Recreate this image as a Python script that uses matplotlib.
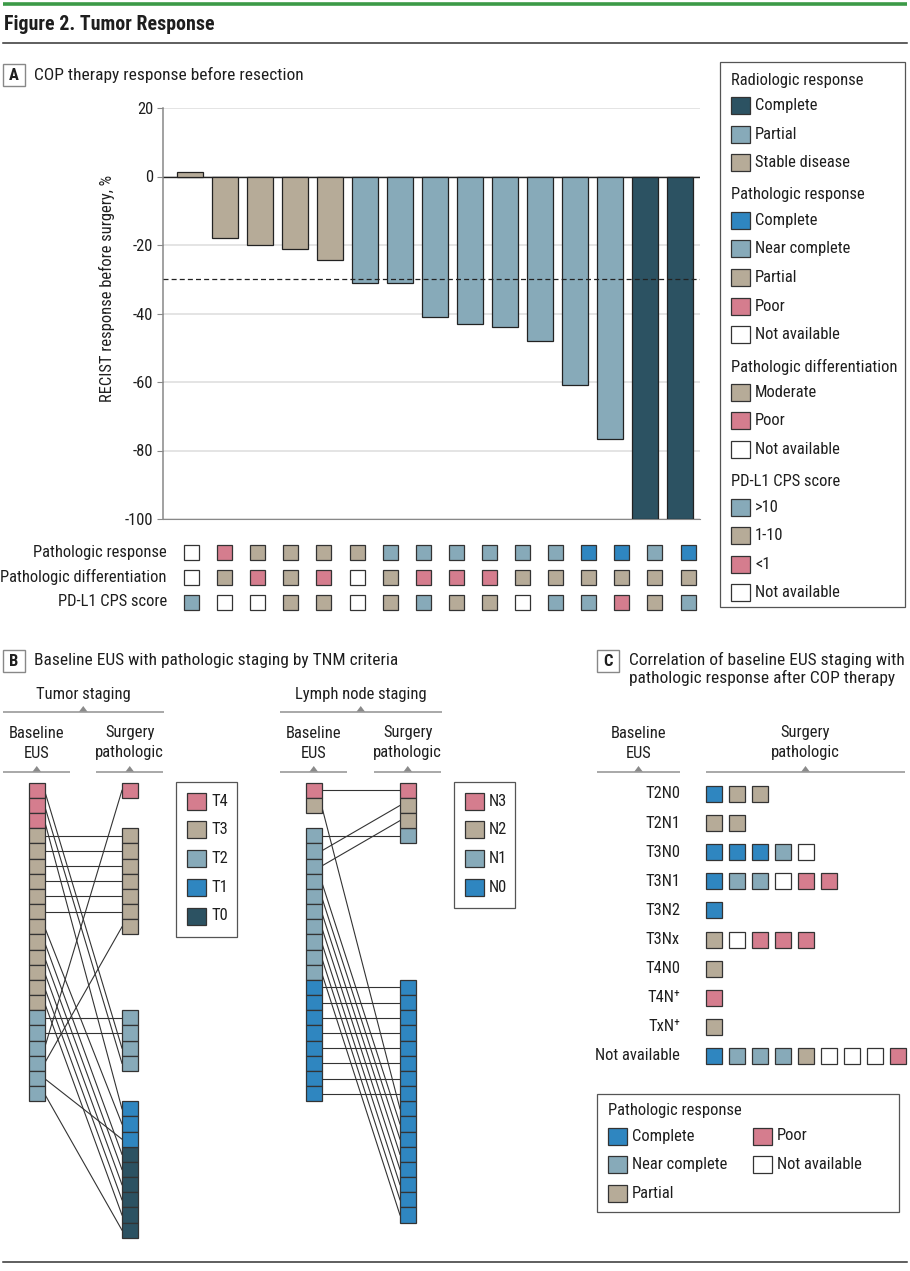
import matplotlib
matplotlib.use("Agg")
import matplotlib.pyplot as plt
from matplotlib import font_manager
from matplotlib.patches import Rectangle, Polygon

# the original uses a condensed sans; take the narrowest one that is installed
_names = {f.name for f in font_manager.fontManager.ttflist}
FONT, FS = "DejaVu Sans", 9.8
for name, size in [("Roboto Condensed", 11.9), ("Liberation Sans Narrow", 11.9),
                   ("Open Sans Condensed", 11.9), ("Lato", 11.2)]:
    if name in _names:
        FONT, FS = name, size
        break
plt.rcParams["font.family"] = [FONT, "DejaVu Sans"]
plt.rcParams["axes.unicode_minus"] = False

W, H = 910, 1271

# colours
DARK = "#2c5262"
BLUE = "#2f86c0"
STEEL = "#87aab9"
TAN = "#b6ab98"
PINK = "#d57d8e"
WHITE = "#ffffff"
EDGE = "#333333"
TXT = "#1e1e1e"
GRID = "#dddddd"

# ---- panel A data ----
recist = [1.2, -18, -20, -21.3, -24.5, -31, -31, -41, -43, -44, -48, -61, -76.5, -100, -100]
radiologic = ["Stable disease", "Stable disease", "Stable disease", "Stable disease", "Stable disease",
              "Partial", "Partial", "Partial", "Partial", "Partial", "Partial", "Partial", "Partial",
              "Complete", "Complete"]
path_response = ["NA", "Poor", "Partial", "Partial", "Partial", "Partial", "Near complete",
                 "Near complete", "Near complete", "Near complete", "Near complete", "Near complete",
                 "Complete", "Complete", "Near complete", "Complete"]
path_diff = ["NA", "Moderate", "Poor", "Moderate", "Poor", "NA", "Moderate", "Poor", "Poor", "Poor",
             "Moderate", "Moderate", "Moderate", "Moderate", "Moderate", "Moderate"]
pdl1 = [">10", "NA", "NA", "1-10", "1-10", "NA", "1-10", ">10", "1-10", "1-10", "NA", ">10", ">10",
        "<1", "1-10", ">10"]
row_labels = ["Pathologic response", "Pathologic differentiation", "PD-L1 CPS score"]

radio_col = {"Complete": DARK, "Partial": STEEL, "Stable disease": TAN}
resp_col = {"Complete": BLUE, "Near complete": STEEL, "Partial": TAN, "Poor": PINK, "NA": WHITE}
diff_col = {"Moderate": TAN, "Poor": PINK, "NA": WHITE}
pdl1_col = {">10": STEEL, "1-10": TAN, "<1": PINK, "NA": WHITE}

# ---- panel B data (one entry per patient, baseline order) ----
t_order = ["T4", "T3", "T2", "T1", "T0"]
t_colors = [PINK, TAN, STEEL, BLUE, DARK]
t_base = ["T4", "T4", "T4", "T3", "T3", "T3", "T3", "T3", "T3", "T3", "T3", "T3", "T3", "T3", "T3",
          "T2", "T2", "T2", "T2", "T2", "T2"]
t_surg = ["T2", "T2", "T1", "T3", "T3", "T3", "T3", "T3", "T3", "T1", "T0", "T0", "T0", "T0", "T0",
          "T2", "T2", "T4", "T3", "T1", "T0"]
n_order = ["N3", "N2", "N1", "N0"]
n_colors = [PINK, TAN, STEEL, BLUE]
n_base = ["N3", "N2", "N1", "N1", "N1", "N1", "N1", "N1", "N1", "N1", "N1", "N1",
          "N0", "N0", "N0", "N0", "N0", "N0", "N0", "N0"]
n_surg = ["N3", "N0", "N1", "N2", "N2", "N0", "N0", "N0", "N0", "N0", "N0", "N0",
          "N0", "N0", "N0", "N0", "N0", "N0", "N0", "N0"]

# ---- panel C data ----
c_rows = ["T2N0", "T2N1", "T3N0", "T3N1", "T3N2", "T3Nx", "T4N0", "T4N\u207a", "TxN\u207a", "Not available"]
c_resp = [
    ["Complete", "Partial", "Partial"],
    ["Partial", "Partial"],
    ["Complete", "Complete", "Complete", "Near complete", "NA"],
    ["Complete", "Near complete", "Near complete", "NA", "Poor", "Poor"],
    ["Complete"],
    ["Partial", "NA", "Poor", "Poor", "Poor"],
    ["Partial"],
    ["Poor"],
    ["Partial"],
    ["Complete", "Near complete", "Near complete", "Near complete", "Partial", "NA", "NA", "NA", "Poor"],
]

fig = plt.figure(figsize=(W / 100, H / 100), dpi=100)
ov = fig.add_axes([0, 0, 1, 1])
ov.set_xlim(0, W)
ov.set_ylim(H, 0)
ov.axis("off")


def sq(x, y, w, h, color, lw=0.9, z=3):
    ov.add_patch(Rectangle((x, y), w, h, facecolor=color, edgecolor=EDGE, lw=lw, zorder=z))


def txt(x, y, s, size=None, **kw):
    kw.setdefault("va", "center")
    ov.text(x, y, s, fontsize=size or FS, color=TXT, **kw)


def bracket(x0, x1, y):
    ov.plot([x0, x1], [y, y], color="#9a9a9a", lw=1.2, solid_capstyle="butt")
    xm = (x0 + x1) / 2
    ov.add_patch(Polygon([[xm - 4.5, y], [xm + 4.5, y], [xm, y - 6]], closed=True,
                         facecolor="#8a8a8a", edgecolor="none"))


def tag(x, y, letter):
    ov.add_patch(Rectangle((x, y - 11), 22, 22, facecolor="white", edgecolor="#888888", lw=1))
    ov.text(x + 11, y + 0.5, letter, ha="center", va="center", fontsize=FS, weight="bold", color=TXT)


def legend_item(x, y, color, label):
    sq(x, y - 8.5, 19, 17, color)
    txt(x + 24, y, label)


# header lines
ov.plot([3, 907], [4, 4], color="#3c9a47", lw=2.6, solid_capstyle="butt")
ov.text(4, 24, "Figure 2. Tumor Response", fontsize=FS * 1.2, weight="bold", color=TXT, va="center")
ov.plot([3, 907], [42.5, 42.5], color="#333333", lw=1.1)
ov.plot([3, 907], [1262, 1262], color="#333333", lw=1.1)

# ================= panel A =================
tag(3, 75, "A")
txt(34, 75, "COP therapy response before resection", size=FS * 1.05)

ax = fig.add_axes([163 / W, 1 - 519 / H, (700 - 163) / W, (519 - 108) / H])
xs = list(range(len(recist)))
ax.bar(xs, recist, width=0.72, color=[radio_col[r] for r in radiologic],
       edgecolor="#222222", linewidth=0.9, zorder=3)
ax.set_xlim(-0.77, 14.57)
ax.set_ylim(-100, 20)
ax.set_yticks([20, 0, -20, -40, -60, -80, -100])
ax.set_xticks([])
ax.grid(axis="y", color=GRID, lw=1.1, zorder=0)
ax.axhline(0, color="#222222", lw=1, zorder=2)
ax.axhline(-30, color="#222222", lw=0.9, ls=(0, (4, 2.5)), zorder=4)
for s in ["top", "right"]:
    ax.spines[s].set_visible(False)
ax.spines["left"].set_color("#888888")
ax.spines["bottom"].set_color("#888888")
ax.spines["left"].set_linewidth(1.1)
ax.tick_params(axis="y", length=4, color="#888888", labelsize=FS, labelcolor=TXT, pad=3)
ov.text(107, 288, "RECIST response before surgery, %", rotation=90, ha="center", va="center",
        fontsize=FS, color=TXT)

# annotation rows under the bars
rows = [(path_response, resp_col), (path_diff, diff_col), (pdl1, pdl1_col)]
for r, (vals, cmap) in enumerate(rows):
    yc = 552 + 25 * r
    txt(167, yc, row_labels[r], ha="right")
    for j, v in enumerate(vals):
        sq(184 + 33.1 * j, yc - 7.5, 15, 15, cmap[v])

# legend A
ov.add_patch(Rectangle((720, 62), 185, 545, facecolor="white", edgecolor="#555555", lw=0.9))
groups = [
    ("Radiologic response", [(DARK, "Complete"), (STEEL, "Partial"), (TAN, "Stable disease")]),
    ("Pathologic response", [(BLUE, "Complete"), (STEEL, "Near complete"), (TAN, "Partial"),
                             (PINK, "Poor"), (WHITE, "Not available")]),
    ("Pathologic differentiation", [(TAN, "Moderate"), (PINK, "Poor"), (WHITE, "Not available")]),
    ("PD-L1 CPS score", [(STEEL, ">10"), (TAN, "1-10"), (PINK, "<1"), (WHITE, "Not available")]),
]
y = 80
for title, items in groups:
    txt(731, y, title)
    y += 25.5
    for col, lab in items:
        legend_item(731, y, col, lab)
        y += 28.6
    y += 3.5

# ================= panel B =================
tag(3, 661, "B")
txt(34, 661, "Baseline EUS with pathologic staging by TNM criteria", size=FS * 1.05)

TOP, SLOT, SW = 782.7, 15.17, 15.5


def stage_flow(xb, xs_, order, colors, base, surg):
    cmap = dict(zip(order, colors))
    start = {}
    pos = 0
    for c in order:
        start[c] = pos
        pos += max(base.count(c), surg.count(c))
    b_slot, s_slot = [], [None] * len(base)
    seen = {c: 0 for c in order}
    for b in base:
        b_slot.append(start[b] + seen[b])
        seen[b] += 1
    for c in order:
        same = [i for i in range(len(base)) if surg[i] == c and base[i] == c]
        other = [i for i in range(len(base)) if surg[i] == c and base[i] != c]
        for k, i in enumerate(same + other):
            s_slot[i] = start[c] + k
    for i in range(len(base)):
        yb = TOP + SLOT * (b_slot[i] + 0.5)
        ys = TOP + SLOT * (s_slot[i] + 0.5)
        ov.plot([xb + SW, xs_], [yb, ys], color="#333333", lw=0.8, zorder=2)
    for i in range(len(base)):
        sq(xb, TOP + SLOT * b_slot[i], SW, SLOT, cmap[base[i]])
        sq(xs_, TOP + SLOT * s_slot[i], SW, SLOT, cmap[surg[i]])


def stage_head(xb, xs_, title):
    xmid = (xb + xs_ + SW) / 2
    txt(xmid, 694, title, ha="center")
    bracket(xb - 26, xs_ + SW + 26, 712)
    for xc, l1, l2 in [(xb + SW / 2, "Baseline", "EUS"), (xs_ + SW / 2, "Surgery", "pathologic")]:
        txt(xc, 733, l1, ha="center")
        txt(xc, 753, l2, ha="center")
        bracket(xc - 33.5, xc + 33.5, 772)


stage_head(29, 122, "Tumor staging")
stage_flow(29, 122, t_order, t_colors, t_base, t_surg)
stage_head(306, 400, "Lymph node staging")
stage_flow(306, 400, n_order, n_colors, n_base, n_surg)

for x0, order, colors in [(176, t_order, t_colors), (454, n_order, n_colors)]:
    hbox = 20 + 28.75 * len(order) - 9
    ov.add_patch(Rectangle((x0, 782), 61, hbox, facecolor="white", edgecolor="#555555", lw=0.9))
    for k, (lab, col) in enumerate(zip(order, colors)):
        legend_item(x0 + 11, 801 + 28.75 * k, col, lab)

# ================= panel C =================
tag(597, 661, "C")
txt(629, 660, "Correlation of baseline EUS staging with", size=FS * 1.05)
txt(629, 678, "pathologic response after COP therapy", size=FS * 1.05)

txt(639, 733, "Baseline", ha="center")
txt(639, 753, "EUS", ha="center")
bracket(597, 680, 772)
txt(805, 733, "Surgery", ha="center")
txt(805, 753, "pathologic", ha="center")
bracket(706, 905, 772)

for r, (lab, vals) in enumerate(zip(c_rows, c_resp)):
    yc = 794 + 29.1 * r
    txt(680, yc, lab, ha="right")
    for j, v in enumerate(vals):
        sq(706 + 23 * j, yc - 8, 16, 16, resp_col[v])

ov.add_patch(Rectangle((597, 1094), 302, 118, facecolor="white", edgecolor="#555555", lw=0.9))
txt(608, 1110, "Pathologic response")
for k, (col, lab) in enumerate([(BLUE, "Complete"), (STEEL, "Near complete"), (TAN, "Partial")]):
    legend_item(608, 1136 + 28.7 * k, col, lab)
for k, (col, lab) in enumerate([(PINK, "Poor"), (WHITE, "Not available")]):
    legend_item(753, 1136 + 28.7 * k, col, lab)

fig.savefig("out.png", dpi=100)
